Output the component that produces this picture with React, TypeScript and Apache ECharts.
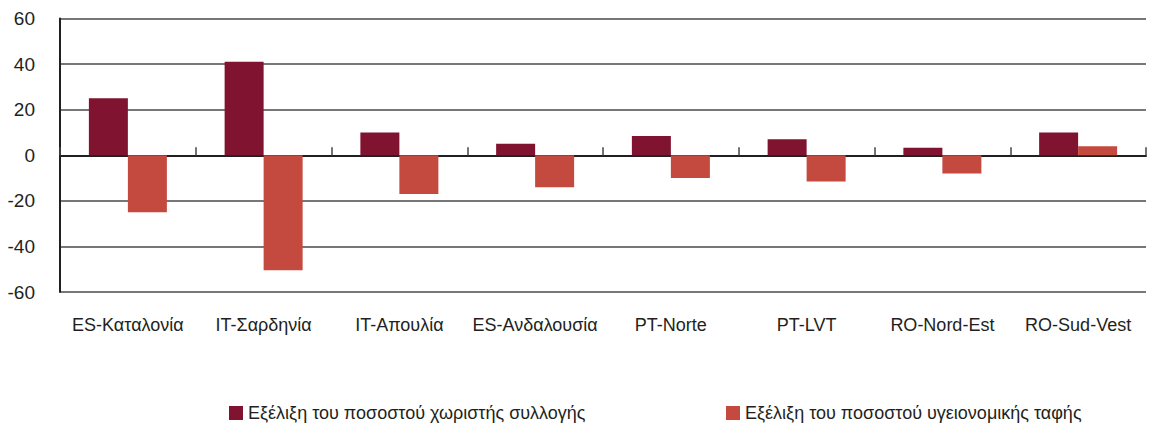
import React, { useEffect, useRef } from "react";
import * as echarts from "echarts";

const categories = [
  "ES-Καταλονία",
  "IT-Σαρδηνία",
  "IT-Απουλία",
  "ES-Ανδαλουσία",
  "PT-Norte",
  "PT-LVT",
  "RO-Nord-Est",
  "RO-Sud-Vest",
];
const seriesNames = [
  "Εξέλιξη του ποσοστού χωριστής συλλογής",
  "Εξέλιξη του ποσοστού υγειονομικής ταφής",
];
const separateCollection = [25, 41, 10, 5, 8.5, 7, 3.3, 10];
const landfill = [-25, -50.5, -17, -14, -10, -11.5, -8, 4];
const yTicks = { min: -60, max: 60, interval: 20 };

const FONT = "'Liberation Sans Narrow', 'Liberation Sans', sans-serif";
const TEXT = "#231f20";
const DARK = "#80132f";
const LIGHT = "#c4493f";

export default function App() {
  const ref = useRef<HTMLDivElement>(null);
  useEffect(() => {
    if (!ref.current) return;
    const chart = echarts.init(ref.current, undefined, { renderer: "svg" });
    chart.setOption({
      animation: false,
      backgroundColor: "#ffffff",
      textStyle: { fontFamily: FONT },
      grid: { left: 60, right: 3, top: 18.5, bottom: 132, containLabel: false },
      legend: [
        {
          data: [seriesNames[0]],
          left: 224,
          top: 399,
          itemWidth: 14,
          itemHeight: 14,
          icon: "rect",
          itemGap: 0,
          textStyle: { fontFamily: FONT, fontSize: 18, color: TEXT },
        },
        {
          data: [seriesNames[1]],
          left: 721,
          top: 399,
          itemWidth: 14,
          itemHeight: 14,
          icon: "rect",
          itemGap: 0,
          textStyle: { fontFamily: FONT, fontSize: 18, color: TEXT },
        },
      ],
      xAxis: [
        {
          type: "category",
          data: categories,
          position: "bottom",
          axisLine: { show: false, onZero: false },
          axisTick: { show: false },
          axisLabel: { interval: 0, fontFamily: FONT, fontSize: 18, color: TEXT, margin: 24 },
          splitLine: { show: false },
        },
        {
          type: "category",
          data: categories,
          position: "bottom",
          axisLine: { show: true, onZero: true, lineStyle: { color: TEXT, width: 2 } },
          axisTick: { show: true, interval: 0, inside: true, length: 8, lineStyle: { color: "#444", width: 1.5 } },
          axisLabel: { show: false },
          splitLine: { show: false },
        },
      ],
      yAxis: {
        type: "value",
        min: yTicks.min,
        max: yTicks.max,
        interval: yTicks.interval,
        axisLine: { show: true, lineStyle: { color: TEXT, width: 2 } },
        axisTick: { show: false },
        axisLabel: { fontFamily: FONT, fontSize: 19, color: TEXT, margin: 25 },
        splitLine: { show: true, lineStyle: { color: "#4a4a4a", width: 1.5 } },
      },
      series: [
        {
          name: seriesNames[0],
          type: "bar",
          xAxisIndex: 0,
          data: separateCollection,
          barWidth: 39,
          barGap: "0%",
          itemStyle: { color: DARK },
        },
        {
          name: seriesNames[1],
          type: "bar",
          xAxisIndex: 0,
          data: landfill,
          barWidth: 39,
          barGap: "0%",
          itemStyle: { color: LIGHT },
        },
      ],
    });
    return () => chart.dispose();
  }, []);
  return (
    <div
      ref={ref}
      style={{ position: "absolute", left: 0, top: 0, width: 1149, height: 424 }}
    />
  );
}
